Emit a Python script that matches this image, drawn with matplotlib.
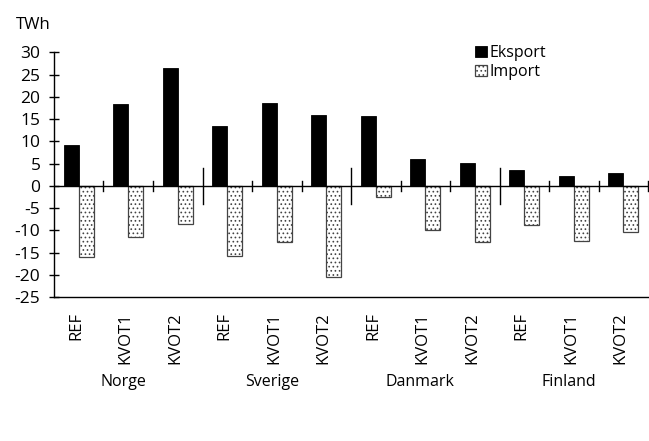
import matplotlib
matplotlib.use("Agg")
import matplotlib.pyplot as plt
import matplotlib.transforms as mtransforms
import numpy as np

plt.rcParams["font.family"] = ["Open Sans", "DejaVu Sans"]
plt.rcParams["hatch.linewidth"] = 0.7

countries = ["Norge", "Sverige", "Danmark", "Finland"]
scenarios = ["REF", "KVOT1", "KVOT2"]
eksport = [9.2, 18.3, 26.5, 13.4, 18.7, 16.0, 15.7, 6.0, 5.2, 3.5, 2.2, 3.0]
importv = [-16.1, -11.5, -8.5, -15.8, -12.7, -20.4, -2.4, -9.9, -12.7, -8.7, -12.3, -10.4]
yticks = list(range(-25, 31, 5))

n = len(eksport)
x = np.arange(n)
labels = scenarios * len(countries)

fig = plt.figure(figsize=(6.49, 4.41), dpi=100)
ax = fig.add_axes([0.0832, 0.3265, 0.9153, 0.5545])

w = 0.3
ax.bar(x - w / 2, eksport, w, color="black", edgecolor="black",
       linewidth=0.6, label="Eksport")
ax.bar(x + w / 2, importv, w, color="white", edgecolor="#444444",
       linewidth=0.9, hatch="....", label="Import")

ax.set_xlim(-0.5, n - 0.5)
ax.set_ylim(-25, 30)
ax.axhline(0, color="black", lw=1.0, zorder=3)

# group separators on the zero line, longer ones between countries
for i in range(n):
    xb = i + 0.5
    h = 4 if (i + 1) % 3 == 0 and i < n - 1 else 1.1
    ax.plot([xb, xb], [-h, h], color="black", lw=1.0, zorder=3,
            clip_on=False)

ax.spines["top"].set_visible(False)
ax.spines["right"].set_visible(False)
ax.spines["left"].set_linewidth(1.0)
ax.spines["bottom"].set_linewidth(1.0)

ax.set_yticks(yticks)
ax.set_yticklabels([str(v) for v in yticks], fontsize=12.5)
ax.tick_params(axis="y", direction="inout", length=7.5, width=1.0, pad=6)

ax.set_xticks(x - 0.05)
ax.set_xticklabels(labels, rotation=90, fontsize=12, va="top")
ax.tick_params(axis="x", length=0, pad=11)

trans = mtransforms.blended_transform_factory(ax.transData, fig.transFigure)
for k, name in enumerate(countries):
    ax.text(x[3 * k + 1] - 0.1, 1 - 382 / 441, name, transform=trans,
            ha="center", va="center", fontsize=11.5)

fig.text(16 / 649, 1 - 25 / 441, "TWh", fontsize=12, va="center", ha="left")

ax.legend(loc="upper left", bbox_to_anchor=(475 / 649, 1 - 45 / 441),
          bbox_transform=fig.transFigure, frameon=False, fontsize=11.5,
          handlelength=0.75, handleheight=0.75, handletextpad=0.15,
          borderpad=0, borderaxespad=0, labelspacing=0.2)

fig.savefig("out.png", dpi=100)
